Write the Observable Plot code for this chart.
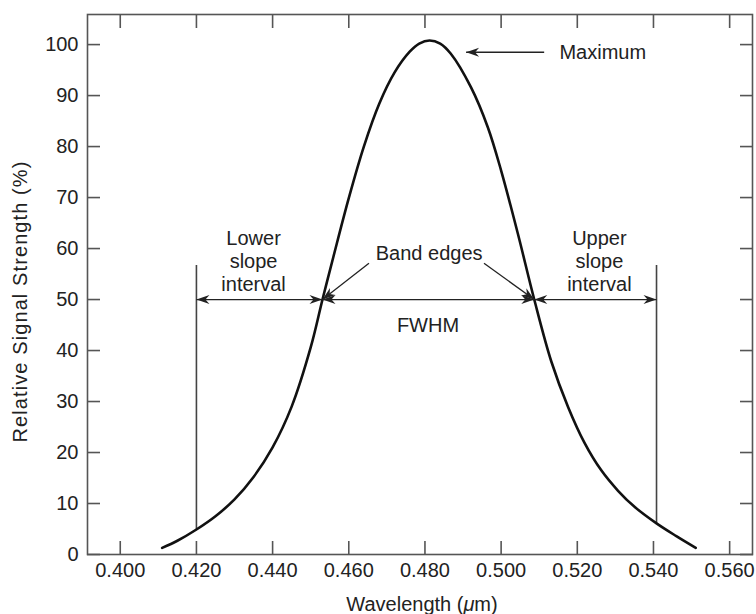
<!DOCTYPE html>
<html><head><meta charset="utf-8">
<script src="https://cdn.jsdelivr.net/npm/d3@7"></script>
<script src="https://cdn.jsdelivr.net/npm/@observablehq/plot@0.6"></script>
<style>body{margin:0;background:#fff} #chart svg{display:block}</style>
</head><body><div id="chart"></div>
<script>
// ---- data ----
const wavelength = [0.4110, 0.4150, 0.4200, 0.4250, 0.4300, 0.4350, 0.4400, 0.4450, 0.4500, 0.4531, 0.4560, 0.4600, 0.4640, 0.4680, 0.4720, 0.4760, 0.4785, 0.4812,
                    0.4840, 0.4868, 0.4921, 0.4965, 0.5000, 0.5044, 0.5087, 0.5132, 0.5176, 0.5219, 0.5263, 0.5307, 0.5351, 0.5408, 0.5460, 0.5511];
const signal     = [1.3, 2.7, 4.9, 7.5, 10.8, 15.2, 21.0, 29.0, 40.6, 50.0, 58.5, 69.9, 80.1, 88.4, 94.5, 98.6, 100.2, 100.8,
                    100.2, 98.2, 91.6, 83.8, 75.3, 62.9, 50.0, 37.8, 28.9, 21.9, 16.5, 12.5, 9.3, 6.1, 3.6, 1.3];
const xTicks = [0.400, 0.420, 0.440, 0.460, 0.480, 0.500, 0.520, 0.540, 0.560];
const yTicks = [0, 10, 20, 30, 40, 50, 60, 70, 80, 90, 100];
const halfMax = 50;
const bandEdges = [0.4531, 0.5087];
const slopeLimits = [0.4200, 0.5408];
const slopeLimitBottoms = [4.9, 6.1];
const slopeLimitTop = 56.7;
const peakArrowTip = [0.4908, 98.5];
const peakArrowStart = [0.5113, 98.5];
const maxLabel = "Maximum";
const maxLabelPos = [0.5153, 98.4];
const labels = ["Lower\nslope\ninterval", "Upper\nslope\ninterval", "Band edges", "FWHM"];
const labelX = [0.4350, 0.5258, 0.4811, 0.4808];
const labelY = [57.6, 57.6, 59.2, 45.1];
const leaderStarts = [[0.4653, 57.1], [0.4955, 57.1]];
const xLabel = "Wavelength (μm)";
const yLabel = "Relative Signal Strength (%)";

// ---- layout ----
const W = 756, H = 614, mL = 87, mR = 4, mT = 14, mB = 60;
const xDomain = [0.3914, 0.5660], yDomain = [0, 105.9];
const xs = d3.scaleLinear(xDomain, [mL, W - mR]);
const ys = d3.scaleLinear(yDomain, [H - mB, mT]);
const ang = (a, b) => Math.atan2(ys(b[1]) - ys(a[1]), xs(b[0]) - xs(a[0])) * 180 / Math.PI;

const curve = wavelength.map((w, i) => ({w, s: signal[i]}));
const verticals = slopeLimits.map((x, i) => ({x, y1: slopeLimitBottoms[i], y2: slopeLimitTop}));

// arrows
const L = [slopeLimits[0], halfMax], E1 = [bandEdges[0], halfMax], E2 = [bandEdges[1], halfMax], R = [slopeLimits[1], halfMax];
const arrows = [
  {from: L, to: E1, both: true},
  {from: E1, to: E2, both: true},
  {from: E2, to: R, both: true},
  {from: peakArrowStart, to: peakArrowTip, both: false},
  {from: leaderStarts[0], to: E1, both: false},
  {from: leaderStarts[1], to: E2, both: false}
];
const shafts = arrows.map(a => ({x1: a.from[0], y1: a.from[1], x2: a.to[0], y2: a.to[1]}));
const heads = [];
for (const a of arrows) {
  heads.push({x: a.to[0], y: a.to[1], rot: ang(a.from, a.to)});
  if (a.both) heads.push({x: a.from[0], y: a.from[1], rot: ang(a.to, a.from)});
}
const headSym = {draw(ctx) { ctx.moveTo(0, 0); ctx.lineTo(-13, -4.5); ctx.lineTo(-9, 0); ctx.lineTo(-13, 4.5); ctx.closePath(); }};
const ann = labels.map((t, i) => ({t, x: labelX[i], y: labelY[i]}));

const FONT = "Liberation Sans, Arial, Helvetica, sans-serif";
const FS = 20;
const INK = "#222";
const AX = "#555";

const chart = Plot.plot({
  width: W, height: H,
  marginLeft: mL, marginRight: mR, marginTop: mT, marginBottom: mB,
  x: {domain: xDomain},
  y: {domain: yDomain},
  style: {fontFamily: FONT, fontSize: FS + "px", color: INK, background: "white"},
  marks: [
    Plot.frame({stroke: AX, strokeWidth: 1.6}),
    Plot.axisX({ticks: xTicks, tickSize: -13, tickPadding: 21, tickFormat: d3.format(".3f"), label: null, stroke: AX, strokeWidth: 1.6, fontSize: FS, fill: INK}),
    Plot.axisX({anchor: "top", ticks: xTicks, tickSize: -13, tickFormat: () => "", label: null, stroke: AX, strokeWidth: 1.6}),
    Plot.axisY({ticks: yTicks, tickSize: -13, tickPadding: 22, label: null, stroke: AX, strokeWidth: 1.6, fontSize: FS, fill: INK}),
    Plot.axisY({anchor: "right", ticks: yTicks, tickSize: -13, tickFormat: () => "", label: null, stroke: AX, strokeWidth: 1.6}),
    Plot.ruleX(verticals, {x: "x", y1: "y1", y2: "y2", stroke: "#444", strokeWidth: 1.6}),
    Plot.line(curve, {x: "w", y: "s", curve: "catmull-rom", stroke: "#111", strokeWidth: 2.6}),
    Plot.link(shafts, {x1: "x1", y1: "y1", x2: "x2", y2: "y2", stroke: INK, strokeWidth: 1.3}),
    Plot.dot(heads, {x: "x", y: "y", rotate: "rot", symbol: headSym, fill: INK, stroke: "none", r: 5}),
    Plot.text(ann, {x: "x", y: "y", text: "t", fontSize: FS, fill: INK, lineHeight: 1.15, textAnchor: "middle"}),
    Plot.text([maxLabel], {x: maxLabelPos[0], y: maxLabelPos[1], fontSize: FS, fill: INK, textAnchor: "start"}),
    Plot.text([yLabel], {frameAnchor: "left", textAnchor: "middle", lineAnchor: "middle", rotate: -90, dx: -67, dy: 17, fontSize: FS, fill: INK, letterSpacing: 1.1}),
    Plot.text([xLabel], {frameAnchor: "bottom", textAnchor: "middle", lineAnchor: "middle", dx: 2, dy: 50, fontSize: FS, fill: INK})
  ]
});
document.getElementById("chart").append(chart);
// italic mu
d3.select(chart).selectAll("text").filter(function() { return this.textContent === xLabel; })
  .each(function() {
    const el = d3.select(this);
    el.text(null);
    el.append("tspan").text("Wavelength (");
    el.append("tspan").attr("font-style", "italic").text("μ");
    el.append("tspan").text("m)");
  });
// letter spacing for y label
d3.select(chart).selectAll("text").filter(function() { return this.textContent === yLabel; })
  .style("letter-spacing", "1.1px");
</script>
</body></html>
